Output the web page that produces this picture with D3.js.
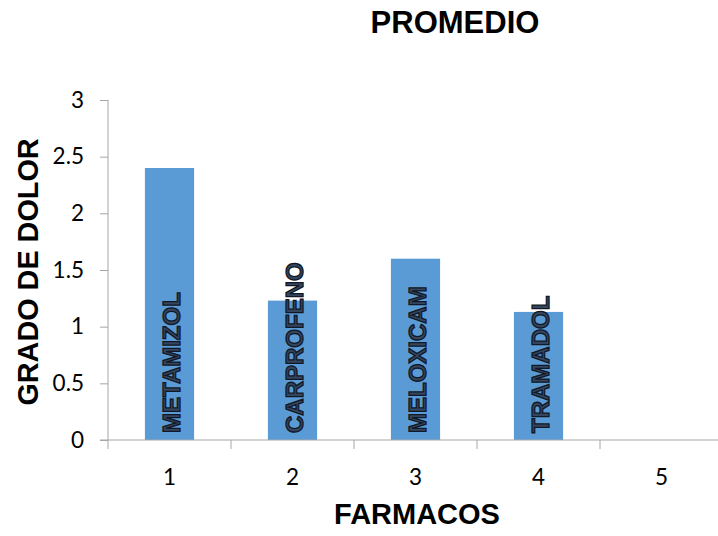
<!DOCTYPE html>
<html>
<head>
<meta charset="utf-8">
<script src="https://cdn.jsdelivr.net/npm/d3@7"></script>
<style>
  html, body { margin: 0; padding: 0; background: #fff; }
  svg { display: block; }
</style>
</head>
<body>
<svg id="chart" width="718" height="536"></svg>
<script>
const categories = [1, 2, 3, 4, 5];
const values = [2.4, 1.23, 1.6, 1.13, null];
const barLabels = ["METAMIZOL", "CARPROFENO", "MELOXICAM", "TRAMADOL", ""];
const yTickValues = [0, 0.5, 1, 1.5, 2, 2.5, 3];
const yTickLabels = ["0", "0.5", "1", "1.5", "2", "2.5", "3"];
const title = "PROMEDIO";
const xTitle = "FARMACOS";
const yTitle = "GRADO DE DOLOR";

(function () {
const svg = d3.select("#chart");
const axisColor = "#A6A6A6";
const plotLeft = 108, plotRight = 723, plotTop = 100, plotBottom = 440;

const x = d3.scaleBand().domain(categories).range([plotLeft, plotRight])
  .paddingInner(0.6).paddingOuter(0.3);
const y = d3.scaleLinear().domain([0, 3]).range([plotBottom, plotTop]);

// bars
svg.append("g").selectAll("rect")
  .data(categories.map((c, i) => ({ c, v: values[i] })).filter(d => d.v != null))
  .join("rect")
  .attr("x", d => x(d.c))
  .attr("width", x.bandwidth())
  .attr("y", d => y(d.v))
  .attr("height", d => y(0) - y(d.v))
  .attr("fill", "#5B9BD5");

// y axis
const yAxis = svg.append("g")
  .attr("transform", `translate(${plotLeft},0)`)
  .call(d3.axisLeft(y).tickValues(yTickValues).tickSize(8).tickPadding(16)
    .tickFormat((d, i) => yTickLabels[i]));
yAxis.select(".domain").remove();
yAxis.append("line").attr("x1", 0).attr("x2", 0).attr("y1", y(3)).attr("y2", y(0))
  .attr("stroke", axisColor);
yAxis.selectAll(".tick line").attr("stroke", axisColor);
yAxis.selectAll(".tick text")
  .attr("font-family", "Lato, 'Open Sans', sans-serif")
  .attr("font-size", 22.5).attr("fill", "#000");

// x axis
const step = x.step();
const xg = svg.append("g");
xg.append("line").attr("x1", plotLeft - 8).attr("x2", 718)
  .attr("y1", y(0)).attr("y2", y(0)).attr("stroke", axisColor);
xg.selectAll("line.tk").data(categories).join("line").attr("class", "tk")
  .attr("x1", d => x(d) - x.paddingOuter() * step)
  .attr("x2", d => x(d) - x.paddingOuter() * step)
  .attr("y1", y(0)).attr("y2", y(0) + 9).attr("stroke", axisColor);
xg.selectAll("text").data(categories).join("text")
  .attr("x", d => x(d) + x.bandwidth() / 2)
  .attr("y", y(0) + 45)
  .attr("text-anchor", "middle")
  .attr("font-family", "Lato, 'Open Sans', sans-serif")
  .attr("font-size", 22.5).attr("fill", "#000")
  .text(d => d);

// bar labels
svg.append("g").selectAll("text")
  .data(categories.map((c, i) => ({ c, t: barLabels[i] })).filter(d => d.t))
  .join("text")
  .attr("transform", d => `translate(${x(d.c) + x.bandwidth() / 2 + 10},${y(0) - 7}) rotate(-90)`)
  .attr("text-anchor", "start")
  .attr("font-family", "'Liberation Sans', Arial, sans-serif")
  .attr("font-weight", "bold")
  .attr("font-size", 24)
  .attr("fill", "#34465E")
  .attr("stroke", "#111827")
  .attr("stroke-width", 1.3)
  .text(d => d.t);

// titles
svg.append("text").attr("x", 455).attr("y", 33).attr("text-anchor", "middle")
  .attr("font-family", "'Liberation Sans', Arial, sans-serif").attr("font-weight", "bold")
  .attr("font-size", 31).text(title);
svg.append("text").attr("x", 417).attr("y", 524).attr("text-anchor", "middle")
  .attr("font-family", "'Liberation Sans', Arial, sans-serif").attr("font-weight", "bold")
  .attr("font-size", 29).text(xTitle);
svg.append("text").attr("transform", "translate(38,272) rotate(-90)").attr("text-anchor", "middle")
  .attr("font-family", "'Liberation Sans', Arial, sans-serif").attr("font-weight", "bold")
  .attr("font-size", 28.8).text(yTitle);
})();
</script>
</body>
</html>
